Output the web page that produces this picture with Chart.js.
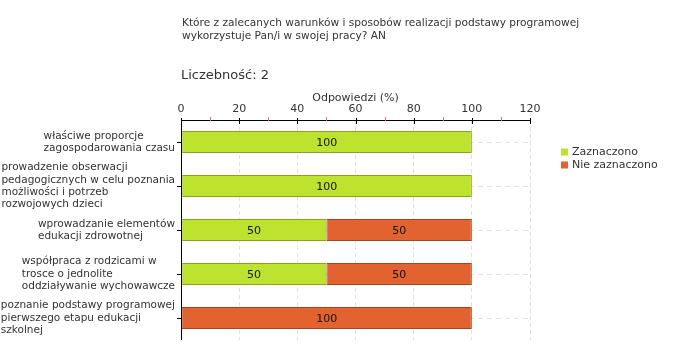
<!DOCTYPE html>
<html>
<head>
<meta charset="utf-8">
<script src="https://cdn.jsdelivr.net/npm/chart.js@4.4.0/dist/chart.umd.min.js"></script>
<style>
  html, body { margin: 0; padding: 0; background: #fff; }
  #wrap { position: relative; width: 680px; height: 360px; }
</style>
</head>
<body>
<div id="wrap"><canvas id="chart" width="680" height="360"></canvas></div>
<script>
// Dane wykresu
const kategorie = [
  ["właściwe proporcje", "zagospodarowania czasu"],
  ["prowadzenie obserwacji", "pedagogicznych w celu poznania", "możliwości i potrzeb", "rozwojowych dzieci"],
  ["wprowadzanie elementów", "edukacji zdrowotnej"],
  ["współpraca z rodzicami w", "trosce o jednolite", "oddziaływanie wychowawcze"],
  ["poznanie podstawy programowej", "pierwszego etapu edukacji", "szkolnej"]
];
const zaznaczono    = [100, 100, 50, 50, 0];
const nieZaznaczono = [0, 0, 50, 50, 100];
const serie = ["Zaznaczono", "Nie zaznaczono"];
const pytanie = [
  "Które z zalecanych warunków i sposobów realizacji podstawy programowej",
  "wykorzystuje Pan/i w swojej pracy? AN"
];
const liczebnosc = "Liczebność: 2";

const FONT = "'DejaVu Sans', Verdana, sans-serif";
const TXT = "#333";

// Teksty nad wykresem, etykiety kategorii, znaczniki osi, legenda
const dodatki = {
  id: "dodatki",
  afterDraw(chart) {
    const ctx = chart.ctx;
    const xs = chart.scales.x, ys = chart.scales.y;
    const area = chart.chartArea;
    ctx.save();
    ctx.fillStyle = TXT;
    ctx.textBaseline = "middle";
    ctx.textAlign = "left";
    ctx.font = "10.6px " + FONT;
    ctx.fillText(pytanie[0], 182, 23);
    ctx.fillText(pytanie[1], 182, 36);
    ctx.font = "13px " + FONT;
    ctx.fillText(liczebnosc, 181, 76);

    // etykiety kategorii: blok wyrównany do prawej, linie do lewej
    ctx.font = "10.5px " + FONT;
    const lh = 12.3;
    kategorie.forEach((lines, i) => {
      const cy = ys.getPixelForValue(i);
      const w = Math.max(...lines.map(l => ctx.measureText(l).width));
      const x0 = area.left - 6 - w;
      const y0 = cy - (lines.length - 1) * lh / 2;
      lines.forEach((l, j) => ctx.fillText(l, x0, y0 + j * lh));
    });

    // osie
    ctx.strokeStyle = "#000";
    ctx.lineWidth = 1;
    ctx.beginPath();
    ctx.moveTo(area.left + 0.5, area.top);
    ctx.lineTo(area.left + 0.5, area.bottom);
    ctx.moveTo(area.left, area.top + 0.5);
    ctx.lineTo(area.right + 1, area.top + 0.5);
    ctx.stroke();
    // znaczniki główne osi X
    ctx.beginPath();
    xs.ticks.forEach(t => {
      const px = Math.round(xs.getPixelForValue(t.value)) + 0.5;
      ctx.moveTo(px, area.top - 2);
      ctx.lineTo(px, area.top + 4);
    });
    // znaczniki osi Y
    kategorie.forEach((_, i) => {
      const py = Math.round(ys.getPixelForValue(i)) + 0.5;
      ctx.moveTo(area.left - 4, py);
      ctx.lineTo(area.left + 1, py);
    });
    ctx.stroke();
    // znaczniki pomocnicze (czerwone)
    ctx.strokeStyle = "#e07070";
    ctx.beginPath();
    for (let v = xs.min + 10; v < xs.max; v += 20) {
      const px = Math.round(xs.getPixelForValue(v)) + 0.5;
      ctx.moveTo(px, area.top - 3);
      ctx.lineTo(px, area.top + 1);
    }
    ctx.stroke();

    // wartości na słupkach
    ctx.fillStyle = "#111";
    ctx.textAlign = "center";
    ctx.font = "11px " + FONT;
    chart.data.datasets.forEach((ds, di) => {
      chart.getDatasetMeta(di).data.forEach((bar, i) => {
        const v = ds.data[i];
        if (!v) return;
        ctx.fillText(String(v), (bar.x + bar.base) / 2, bar.y + 1);
      });
    });

    // legenda
    ctx.textAlign = "left";
    chart.data.datasets.forEach((ds, di) => {
      const y = 152 + di * 13;
      ctx.fillStyle = ds.backgroundColor;
      ctx.fillRect(561, y - 3.5, 7, 7);
      ctx.fillStyle = TXT;
      ctx.fillText(ds.label, 572, y);
    });
    ctx.restore();
  }
};

new Chart(document.getElementById("chart"), {
  type: "bar",
  data: {
    labels: kategorie.map(l => l.join(" ")),
    datasets: [
      {
        label: serie[0],
        data: zaznaczono,
        backgroundColor: "#bee32f",
        borderColor: "#86a51c",
        borderWidth: 1,
        borderSkipped: false
      },
      {
        label: serie[1],
        data: nieZaznaczono,
        backgroundColor: "#e2632f",
        borderColor: "#a9451c",
        borderWidth: 1,
        borderSkipped: false
      }
    ]
  },
  options: {
    indexAxis: "y",
    responsive: false,
    animation: false,
    layout: { padding: { top: 90, right: 150, bottom: 20, left: 0 } },
    barPercentage: 0.5,
    categoryPercentage: 1.0,
    plugins: {
      legend: { display: false },
      tooltip: { enabled: false }
    },
    scales: {
      x: {
        position: "top",
        stacked: true,
        min: 0,
        max: 120,
        ticks: {
          stepSize: 20,
          padding: 4,
          color: "#333",
          font: { family: FONT, size: 11 }
        },
        grid: {
          drawTicks: false,
          color: (c) => c.tick && c.tick.value === 0 ? "rgba(0,0,0,0)" : "#e2e2e2"
        },
        border: { display: false, dash: [4, 3] },
        title: {
          display: true,
          text: "Odpowiedzi (%)",
          color: "#333",
          font: { family: FONT, size: 11 },
          padding: { top: 2, bottom: 0 }
        },
        afterFit: (s) => { s.height = 30; }
      },
      y: {
        stacked: true,
        ticks: { display: false },
        grid: {
          offset: false,
          drawTicks: false,
          color: "#e2e2e2"
        },
        border: { display: false, dash: [5, 4] },
        afterFit: (s) => { s.width = 181; }
      }
    }
  },
  plugins: [dodatki]
});
</script>
</body>
</html>
